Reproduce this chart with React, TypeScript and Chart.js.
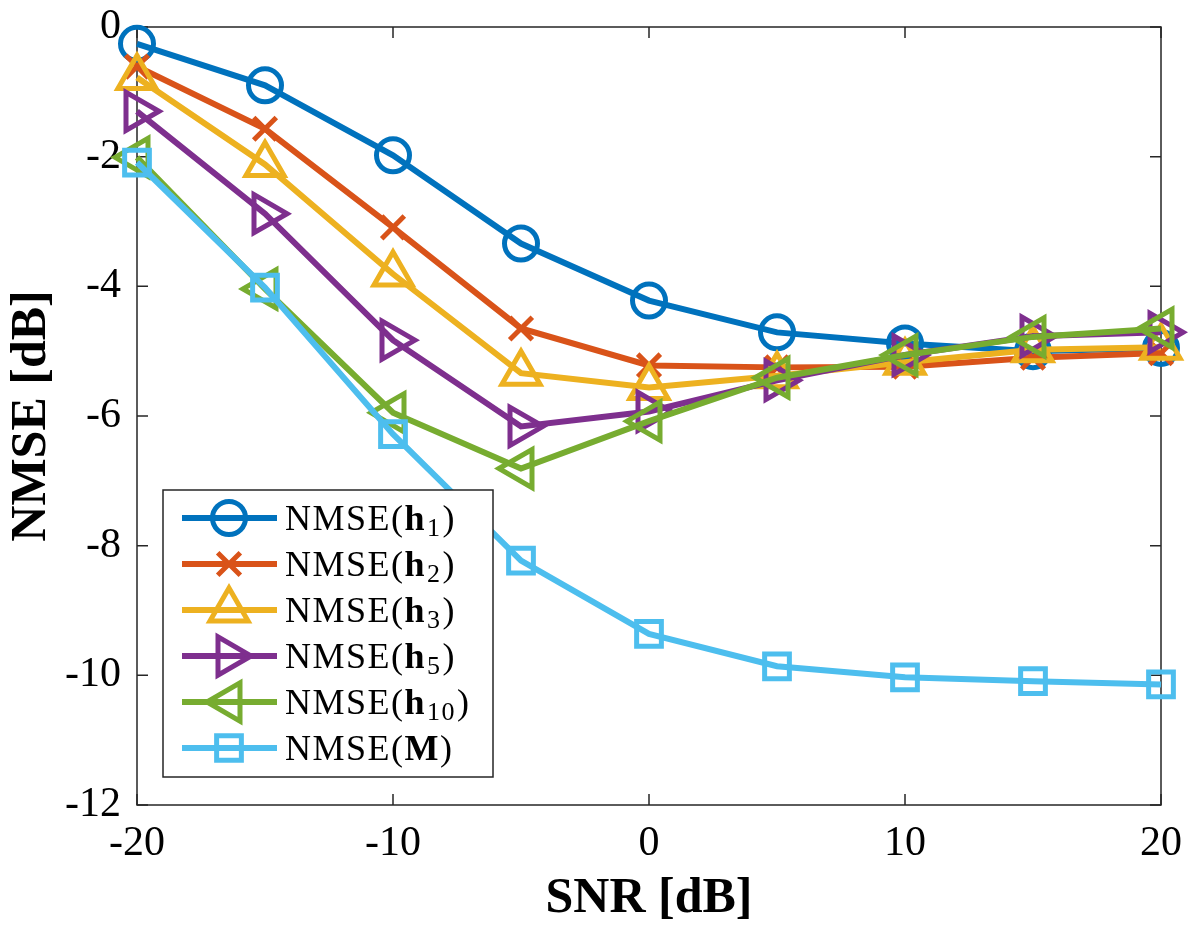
import React, { useEffect, useRef } from "react";
import { Chart, registerables } from "chart.js";
import { drawPoint } from "chart.js/helpers";

Chart.register(...registerables);

const snr = [-20, -15, -10, -5, 0, 5, 10, 15, 20];
const nmseH1 = [-0.26, -0.9, -1.98, -3.34, -4.22, -4.71, -4.88, -5.0, -4.95];
const nmseH2 = [-0.61, -1.57, -3.09, -4.65, -5.22, -5.25, -5.24, -5.1, -5.03];
const nmseH3 = [-0.78, -2.12, -3.81, -5.34, -5.56, -5.38, -5.17, -4.98, -4.94];
const nmseH5 = [-1.3, -2.88, -4.83, -6.16, -5.93, -5.45, -5.06, -4.77, -4.71];
const nmseH10 = [-2.01, -4.04, -5.95, -6.81, -6.08, -5.41, -5.06, -4.78, -4.65];
const nmseM = [-2.09, -4.02, -6.28, -8.23, -9.36, -9.86, -10.03, -10.09, -10.14];

const xTicks = [-20, -10, 0, 10, 20];
const yTicks = [0, -2, -4, -6, -8, -10, -12];

const seriesNames = ["h|1", "h|2", "h|3", "h|5", "h|10", "M|"];
const colors = ["#0072BD", "#D95319", "#EDB120", "#7E2F8E", "#77AC30", "#4DBEEE"];
const styles: any[] = ["circle", "crossRot", "triangle", "triangle", "triangle", "rect"];
const rotations = [0, 0, 0, 90, -90, 0];
const radii = [16.5, 16, 22, 22, 22, 17.5];

const SERIF = "'Liberation Serif', 'DejaVu Serif', serif";
const AXIS = "#262626";

const zeroPad = (s: any) => {
  s.paddingTop = 0;
  s.paddingBottom = 0;
  s.paddingLeft = 0;
  s.paddingRight = 0;
};

const frameAndTicks = {
  id: "frameAndTicks",
  beforeDatasetsDraw(chart: any) {
    const { ctx, chartArea: a, scales } = chart;
    ctx.save();
    ctx.strokeStyle = AXIS;
    ctx.lineWidth = 1.5;
    ctx.strokeRect(a.left, a.top, a.right - a.left, a.bottom - a.top);
    const tl = 11;
    ctx.beginPath();
    for (const v of xTicks) {
      const px = scales.x.getPixelForValue(v);
      ctx.moveTo(px, a.bottom);
      ctx.lineTo(px, a.bottom - tl);
      ctx.moveTo(px, a.top);
      ctx.lineTo(px, a.top + tl);
    }
    for (const v of yTicks) {
      const py = scales.y.getPixelForValue(v);
      ctx.moveTo(a.left, py);
      ctx.lineTo(a.left + tl, py);
      ctx.moveTo(a.right, py);
      ctx.lineTo(a.right - tl, py);
    }
    ctx.stroke();
    ctx.restore();
  },
};

const legendBox = {
  id: "legendBox",
  afterDatasetsDraw(chart: any) {
    const { ctx } = chart;
    const L = 163, T = 490, R = 493, B = 777;
    ctx.save();
    ctx.fillStyle = "#fff";
    ctx.fillRect(L, T, R - L, B - T);
    ctx.strokeStyle = AXIS;
    ctx.lineWidth = 1.5;
    ctx.strokeRect(L, T, R - L, B - T);
    const rowY = [518, 564, 610, 656, 702, 748];
    chart.data.datasets.forEach((ds: any, i: number) => {
      const y = rowY[i];
      ctx.strokeStyle = ds.borderColor;
      ctx.lineWidth = 6;
      ctx.beginPath();
      ctx.moveTo(182, y);
      ctx.lineTo(277, y);
      ctx.stroke();
      ctx.lineWidth = 5;
      ctx.fillStyle = "rgba(0,0,0,0)";
      drawPoint(ctx, { pointStyle: ds.pointStyle, rotation: ds.pointRotation, radius: ds.pointRadius, borderWidth: 5 }, 229, y);
      const [sym, sub] = seriesNames[i].split("|");
      let x = 285;
      ctx.fillStyle = "#000";
      ctx.textBaseline = "alphabetic";
      ctx.textAlign = "left";
      (ctx as any).letterSpacing = "1.5px";
      const base = y + 12;
      ctx.font = `36px ${SERIF}`;
      ctx.fillText("NMSE(", x, base);
      x += ctx.measureText("NMSE(").width;
      ctx.font = `bold 36px ${SERIF}`;
      ctx.fillText(sym, x, base);
      x += ctx.measureText(sym).width;
      if (sub) {
        ctx.font = `26px ${SERIF}`;
        ctx.fillText(sub, x + 1, base + 6);
        x += ctx.measureText(sub).width + 2;
      }
      ctx.font = `36px ${SERIF}`;
      ctx.fillText(")", x, base);
      (ctx as any).letterSpacing = "0px";
    });
    ctx.restore();
  },
};

export default function App() {
  const ref = useRef<HTMLCanvasElement>(null);
  useEffect(() => {
    document.body.style.margin = "0";
    const allSeries = [nmseH1, nmseH2, nmseH3, nmseH5, nmseH10, nmseM];
    const chart = new Chart(ref.current!, {
      type: "line",
      data: {
        datasets: allSeries.map((vals, i) => ({
          label: seriesNames[i],
          data: snr.map((x, j) => ({ x, y: vals[j] })),
          borderColor: colors[i],
          backgroundColor: colors[i],
          pointBorderColor: colors[i],
          pointBackgroundColor: "rgba(0,0,0,0)",
          borderWidth: 6,
          pointBorderWidth: 5,
          pointStyle: styles[i],
          pointRotation: rotations[i],
          pointRadius: radii[i],
          tension: 0,
          order: allSeries.length - i,
          clip: false as any,
        })),
      },
      options: {
        responsive: false,
        animation: false,
        events: [],
        layout: { padding: { top: 17, right: 27, left: 0, bottom: 0 } },
        plugins: { legend: { display: false }, tooltip: { enabled: false } },
        scales: {
          x: {
            type: "linear",
            min: -20,
            max: 20,
            afterBuildTicks: (s: any) => { s.ticks = xTicks.map((v) => ({ value: v })); },
            afterFit: (s: any) => { s.height = 126; zeroPad(s); },
            grid: { display: false, drawTicks: false, tickLength: 0 },
            border: { display: false },
            ticks: {
              padding: 14,
              color: "#000",
              font: { family: SERIF, size: 42 },
              maxRotation: 0,
              callback: (v: any) => String(v),
            },
            title: {
              display: true,
              text: "SNR [dB]",
              color: "#000",
              font: { family: SERIF, size: 50, weight: "bold" },
              padding: { top: 0, bottom: 2 },
            },
          },
          y: {
            type: "linear",
            min: -12,
            max: 0,
            afterBuildTicks: (s: any) => { s.ticks = yTicks.map((v) => ({ value: v })); },
            afterFit: (s: any) => { s.width = 137; zeroPad(s); },
            grid: { display: false, drawTicks: false, tickLength: 0 },
            border: { display: false },
            ticks: {
              padding: 16,
              color: "#000",
              font: { family: SERIF, size: 42 },
              callback: (v: any) => String(v),
            },
            title: {
              display: true,
              text: "NMSE [dB]",
              color: "#000",
              font: { family: SERIF, size: 50, weight: "bold" },
              padding: { top: 2, bottom: 0 },
            },
          },
        },
      },
      plugins: [frameAndTicks, legendBox],
    });
    return () => chart.destroy();
  }, []);
  return (
    <div style={{ width: 1188, height: 931 }}>
      <canvas ref={ref} width={1188} height={931} />
    </div>
  );
}
